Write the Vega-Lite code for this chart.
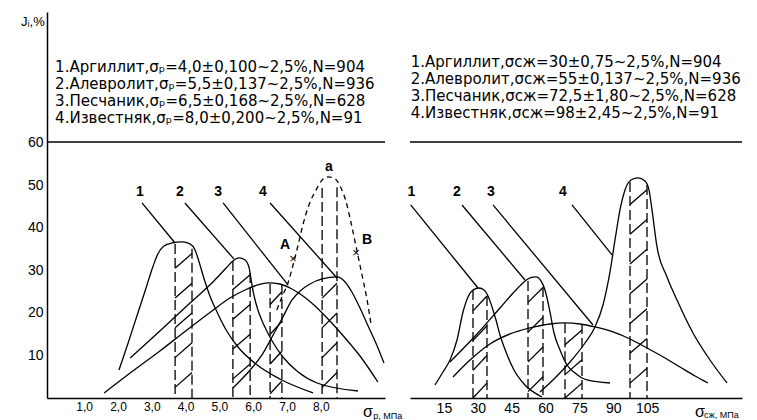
{
  "$schema": "https://vega.github.io/schema/vega-lite/v6.json",
  "padding": {"left": 0, "top": 12, "right": 0, "bottom": 0},
  "bounds": "flush",
  "spacing": 25,
  "config": {
    "font": "Liberation Sans",
    "view": {"stroke": null},
    "axis": {"grid": false, "ticks": false, "domainColor": "black", "domainWidth": 1.5, "labelColor": "black", "labelFontSize": 13, "labelFont": "Liberation Sans"},
    "text": {"font": "Liberation Sans", "color": "black"}
  },
  "datasets": {
    "line60": [{"y": 60.2}],
    "curvesL": [
      {"c": "1", "x": 2.03, "y": 6.59}, {"c": "1", "x": 2.30, "y": 12.94}, {"c": "1", "x": 2.56, "y": 19.29}, {"c": "1", "x": 2.83, "y": 25.88}, {"c": "1", "x": 3.04, "y": 31.06}, {"c": "1", "x": 3.18, "y": 33.88}, {"c": "1", "x": 3.36, "y": 35.76}, {"c": "1", "x": 3.60, "y": 36.47}, {"c": "1", "x": 3.89, "y": 36.71}, {"c": "1", "x": 4.13, "y": 36.24}, {"c": "1", "x": 4.28, "y": 34.82}, {"c": "1", "x": 4.40, "y": 32.0}, {"c": "1", "x": 4.54, "y": 28.24}, {"c": "1", "x": 4.72, "y": 24.0}, {"c": "1", "x": 4.93, "y": 20.24}, {"c": "1", "x": 5.20, "y": 16.0}, {"c": "1", "x": 5.55, "y": 12.0}, {"c": "1", "x": 6.08, "y": 8.0}, {"c": "1", "x": 6.79, "y": 4.47}, {"c": "1", "x": 7.77, "y": 1.18},
      {"c": "2", "x": 2.36, "y": 9.41}, {"c": "2", "x": 3.24, "y": 15.76}, {"c": "2", "x": 4.13, "y": 22.35}, {"c": "2", "x": 4.84, "y": 27.53}, {"c": "2", "x": 5.20, "y": 30.59}, {"c": "2", "x": 5.40, "y": 32.24}, {"c": "2", "x": 5.58, "y": 32.94}, {"c": "2", "x": 5.76, "y": 32.47}, {"c": "2", "x": 5.88, "y": 30.59}, {"c": "2", "x": 5.94, "y": 27.76}, {"c": "2", "x": 6.02, "y": 24.24}, {"c": "2", "x": 6.14, "y": 20.71}, {"c": "2", "x": 6.29, "y": 17.65}, {"c": "2", "x": 6.56, "y": 13.41}, {"c": "2", "x": 6.88, "y": 9.65}, {"c": "2", "x": 7.33, "y": 6.12}, {"c": "2", "x": 7.89, "y": 3.53}, {"c": "2", "x": 9.10, "y": 1.65},
      {"c": "3", "x": 1.59, "y": 1.18}, {"c": "3", "x": 2.36, "y": 5.88}, {"c": "3", "x": 3.24, "y": 11.06}, {"c": "3", "x": 4.04, "y": 16.0}, {"c": "3", "x": 4.78, "y": 20.47}, {"c": "3", "x": 5.31, "y": 23.53}, {"c": "3", "x": 5.76, "y": 25.41}, {"c": "3", "x": 6.14, "y": 26.59}, {"c": "3", "x": 6.44, "y": 27.06}, {"c": "3", "x": 6.79, "y": 26.82}, {"c": "3", "x": 7.09, "y": 25.88}, {"c": "3", "x": 7.39, "y": 24.47}, {"c": "3", "x": 7.83, "y": 21.65}, {"c": "3", "x": 8.27, "y": 18.12}, {"c": "3", "x": 8.72, "y": 14.12}, {"c": "3", "x": 9.16, "y": 9.88}, {"c": "3", "x": 9.69, "y": 3.76},
      {"c": "4", "x": 5.40, "y": 2.35}, {"c": "4", "x": 5.91, "y": 6.59}, {"c": "4", "x": 6.26, "y": 10.12}, {"c": "4", "x": 6.59, "y": 14.82}, {"c": "4", "x": 6.88, "y": 19.06}, {"c": "4", "x": 7.15, "y": 23.06}, {"c": "4", "x": 7.39, "y": 25.18}, {"c": "4", "x": 7.68, "y": 26.82}, {"c": "4", "x": 8.04, "y": 28.0}, {"c": "4", "x": 8.48, "y": 28.47}, {"c": "4", "x": 8.72, "y": 27.29}, {"c": "4", "x": 8.92, "y": 24.94}, {"c": "4", "x": 9.16, "y": 21.18}, {"c": "4", "x": 9.40, "y": 16.94}, {"c": "4", "x": 9.63, "y": 12.94}, {"c": "4", "x": 9.87, "y": 8.24}
    ],
    "dashedL": [
      {"x": 6.70, "y": 20.71}, {"x": 6.85, "y": 23.76}, {"x": 7.03, "y": 27.06}, {"x": 7.18, "y": 31.29}, {"x": 7.33, "y": 36.0}, {"x": 7.47, "y": 40.71}, {"x": 7.65, "y": 45.41}, {"x": 7.86, "y": 48.94}, {"x": 8.04, "y": 51.29}, {"x": 8.21, "y": 52.0}, {"x": 8.39, "y": 51.76}, {"x": 8.57, "y": 49.88}, {"x": 8.75, "y": 46.12}, {"x": 8.89, "y": 41.41}, {"x": 9.04, "y": 35.76}, {"x": 9.22, "y": 28.94}, {"x": 9.37, "y": 23.06}, {"x": 9.49, "y": 17.18}
    ],
    "bandsL": [
      {"x": 3.69, "top": 36.2}, {"x": 4.19, "top": 35.1}, {"x": 5.40, "top": 32.2}, {"x": 5.91, "top": 29.4}, {"x": 6.50, "top": 26.8}, {"x": 6.85, "top": 26.6}, {"x": 8.04, "top": 49.4}, {"x": 8.48, "top": 49.6}
    ],
    "hatchL": [
      {"xa": 3.69, "ya": 30.5, "xb": 4.19, "yb": 34}, {"xa": 3.69, "ya": 23.5, "xb": 4.19, "yb": 27}, {"xa": 3.69, "ya": 16.5, "xb": 4.19, "yb": 20}, {"xa": 3.69, "ya": 9.5, "xb": 4.19, "yb": 13}, {"xa": 3.69, "ya": 2.5, "xb": 4.19, "yb": 6},
      {"xa": 5.40, "ya": 25.5, "xb": 5.91, "yb": 29}, {"xa": 5.40, "ya": 18.5, "xb": 5.91, "yb": 22}, {"xa": 5.40, "ya": 11.5, "xb": 5.91, "yb": 15}, {"xa": 5.40, "ya": 4.5, "xb": 5.91, "yb": 8},
      {"xa": 6.50, "ya": 22, "xb": 6.85, "yb": 25}, {"xa": 6.50, "ya": 15, "xb": 6.85, "yb": 18}, {"xa": 6.50, "ya": 8, "xb": 6.85, "yb": 11}, {"xa": 6.50, "ya": 1, "xb": 6.85, "yb": 4},
      {"xa": 8.04, "ya": 23.5, "xb": 8.48, "yb": 27}, {"xa": 8.04, "ya": 16.5, "xb": 8.48, "yb": 20}, {"xa": 8.04, "ya": 9.5, "xb": 8.48, "yb": 13}, {"xa": 8.04, "ya": 2.5, "xb": 8.48, "yb": 6}
    ],
    "leadersL": [
      {"xa": 2.71, "ya": 45.88, "xb": 3.69, "yb": 36.47}, {"xa": 3.98, "ya": 45.88, "xb": 5.43, "yb": 32.71}, {"xa": 5.11, "ya": 45.88, "xb": 7.03, "yb": 26.59}, {"xa": 6.50, "ya": 45.88, "xb": 8.48, "yb": 28.24}
    ],
    "labelsL": [
      {"x": 2.65, "y": 48.5, "t": "1"}, {"x": 3.83, "y": 48.5, "t": "2"}, {"x": 4.96, "y": 48.5, "t": "3"}, {"x": 6.29, "y": 48.5, "t": "4"}, {"x": 6.94, "y": 36.0, "t": "A"}, {"x": 9.37, "y": 37.2, "t": "B"}, {"x": 8.24, "y": 54.4, "t": "a"}
    ],
    "crossL": [{"x": 7.18, "y": 32.7, "t": "×"}, {"x": 9.04, "y": 34.1, "t": "×"}],
    "legendL": [
      {"x": 0.14, "y": 77.88, "t": "1.Аргиллит,σₚ=4,0±0,100~2,5%,N=904"},
      {"x": 0.14, "y": 73.88, "t": "2.Алевролит,σₚ=5,5±0,137~2,5%,N=936"},
      {"x": 0.14, "y": 69.88, "t": "3.Песчаник,σₚ=6,5±0,168~2,5%,N=628"},
      {"x": 0.14, "y": 65.88, "t": "4.Известняк,σₚ=8,0±0,200~2,5%,N=91"}
    ],
    "ytitleL": [{"x": -0.87, "y": 88.4, "t": "Jᵢ,%"}],
    "sigL": [{"x": 9.25, "y": -3.3, "t": "σ"}],
    "subL": [{"x": 9.55, "y": -4.3, "t": "р, МПа"}],
    "curvesR": [
      {"c": "1", "x": 11.07, "y": 3.06}, {"c": "1", "x": 14.61, "y": 6.12}, {"c": "1", "x": 17.71, "y": 8.94}, {"c": "1", "x": 20.81, "y": 13.65}, {"c": "1", "x": 23.47, "y": 20.24}, {"c": "1", "x": 25.68, "y": 23.76}, {"c": "1", "x": 27.89, "y": 25.41}, {"c": "1", "x": 30.55, "y": 25.88}, {"c": "1", "x": 32.77, "y": 25.41}, {"c": "1", "x": 34.54, "y": 24.0}, {"c": "1", "x": 36.31, "y": 21.41}, {"c": "1", "x": 38.08, "y": 18.35}, {"c": "1", "x": 39.85, "y": 14.82}, {"c": "1", "x": 42.51, "y": 10.82}, {"c": "1", "x": 46.05, "y": 6.59}, {"c": "1", "x": 50.48, "y": 3.29}, {"c": "1", "x": 58.45, "y": 0.24},
      {"c": "2", "x": 17.71, "y": 8.47}, {"c": "2", "x": 29.67, "y": 15.06}, {"c": "2", "x": 39.85, "y": 21.18}, {"c": "2", "x": 46.49, "y": 25.18}, {"c": "2", "x": 50.48, "y": 27.29}, {"c": "2", "x": 53.13, "y": 28.24}, {"c": "2", "x": 55.79, "y": 28.47}, {"c": "2", "x": 58.00, "y": 27.53}, {"c": "2", "x": 59.77, "y": 25.41}, {"c": "2", "x": 61.99, "y": 20.24}, {"c": "2", "x": 63.76, "y": 15.29}, {"c": "2", "x": 66.42, "y": 11.29}, {"c": "2", "x": 69.52, "y": 7.76}, {"c": "2", "x": 73.06, "y": 5.88}, {"c": "2", "x": 78.37, "y": 4.24}, {"c": "2", "x": 88.55, "y": 3.53},
      {"c": "3", "x": 19.04, "y": 4.94}, {"c": "3", "x": 26.57, "y": 8.94}, {"c": "3", "x": 35.42, "y": 12.71}, {"c": "3", "x": 44.28, "y": 15.06}, {"c": "3", "x": 53.13, "y": 16.47}, {"c": "3", "x": 61.99, "y": 17.41}, {"c": "3", "x": 68.63, "y": 17.65}, {"c": "3", "x": 75.27, "y": 17.41}, {"c": "3", "x": 81.91, "y": 16.71}, {"c": "3", "x": 89.88, "y": 15.53}, {"c": "3", "x": 97.41, "y": 13.88}, {"c": "3", "x": 104.94, "y": 11.76}, {"c": "3", "x": 112.91, "y": 9.41}, {"c": "3", "x": 119.55, "y": 7.29}, {"c": "3", "x": 126.19, "y": 5.18}, {"c": "3", "x": 131.95, "y": 3.53},
      {"c": "4", "x": 57.56, "y": 1.41}, {"c": "4", "x": 64.20, "y": 4.71}, {"c": "4", "x": 70.84, "y": 8.47}, {"c": "4", "x": 77.49, "y": 12.94}, {"c": "4", "x": 81.91, "y": 16.71}, {"c": "4", "x": 85.45, "y": 21.88}, {"c": "4", "x": 88.55, "y": 29.65}, {"c": "4", "x": 90.77, "y": 37.18}, {"c": "4", "x": 92.98, "y": 44.24}, {"c": "4", "x": 95.20, "y": 48.94}, {"c": "4", "x": 97.85, "y": 51.29}, {"c": "4", "x": 100.95, "y": 51.76}, {"c": "4", "x": 104.05, "y": 51.06}, {"c": "4", "x": 105.82, "y": 48.94}, {"c": "4", "x": 107.15, "y": 44.24}, {"c": "4", "x": 109.37, "y": 35.53}, {"c": "4", "x": 113.79, "y": 28.47}, {"c": "4", "x": 118.22, "y": 23.06}, {"c": "4", "x": 125.30, "y": 15.29}, {"c": "4", "x": 132.83, "y": 8.94}, {"c": "4", "x": 140.36, "y": 3.53}
    ],
    "bandsR": [
      {"x": 27.89, "top": 25.4}, {"x": 34.09, "top": 24.0}, {"x": 52.25, "top": 27.5}, {"x": 58.89, "top": 26.1}, {"x": 68.63, "top": 17.6}, {"x": 76.16, "top": 17.4}, {"x": 97.41, "top": 50.8}, {"x": 104.94, "top": 50.1}
    ],
    "hatchR": [
      {"xa": 27.89, "ya": 20.5, "xb": 34.09, "yb": 24}, {"xa": 27.89, "ya": 13.5, "xb": 34.09, "yb": 17}, {"xa": 27.89, "ya": 6.5, "xb": 34.09, "yb": 10}, {"xa": 27.89, "ya": 0, "xb": 34.09, "yb": 3.5},
      {"xa": 52.25, "ya": 22.5, "xb": 58.89, "yb": 26}, {"xa": 52.25, "ya": 15.5, "xb": 58.89, "yb": 19}, {"xa": 52.25, "ya": 8.5, "xb": 58.89, "yb": 12}, {"xa": 52.25, "ya": 1.5, "xb": 58.89, "yb": 5},
      {"xa": 68.63, "ya": 12.5, "xb": 76.16, "yb": 16}, {"xa": 68.63, "ya": 5.5, "xb": 76.16, "yb": 9}, {"xa": 68.63, "ya": 0, "xb": 76.16, "yb": 3.5},
      {"xa": 97.41, "ya": 45.5, "xb": 104.94, "yb": 49}, {"xa": 97.41, "ya": 38.5, "xb": 104.94, "yb": 42}, {"xa": 97.41, "ya": 31.5, "xb": 104.94, "yb": 35}, {"xa": 97.41, "ya": 24.5, "xb": 104.94, "yb": 28}, {"xa": 97.41, "ya": 17.5, "xb": 104.94, "yb": 21}, {"xa": 97.41, "ya": 10.5, "xb": 104.94, "yb": 14}, {"xa": 97.41, "ya": 3.5, "xb": 104.94, "yb": 7}
    ],
    "leadersR": [
      {"xa": 0.3, "ya": 45.41, "xb": 30.11, "yb": 25.88}, {"xa": 23.02, "ya": 45.41, "xb": 50.92, "yb": 27.76}, {"xa": 36.75, "ya": 45.41, "xb": 81.03, "yb": 17.18}, {"xa": 71.73, "ya": 45.41, "xb": 89.44, "yb": 33.65}
    ],
    "labelsR": [
      {"x": 0.6, "y": 48.5, "t": "1"}, {"x": 20.81, "y": 48.5, "t": "2"}, {"x": 35.86, "y": 48.5, "t": "3"}, {"x": 67.74, "y": 48.5, "t": "4"}
    ],
    "legendR": [
      {"x": 0.3, "y": 79.06, "t": "1.Аргиллит,σсж=30±0,75~2,5%,N=904"},
      {"x": 0.3, "y": 75.06, "t": "2.Алевролит,σсж=55±0,137~2,5%,N=936"},
      {"x": 0.3, "y": 71.06, "t": "3.Песчаник,σсж=72,5±1,80~2,5%,N=628"},
      {"x": 0.3, "y": 67.06, "t": "4.Известняк,σсж=98±2,45~2,5%,N=91"}
    ],
    "sigR": [{"x": 126.2, "y": -3.3, "t": "σ"}],
    "subR": [{"x": 130.2, "y": -4.0, "t": "сж, МПа"}]
  },
  "hconcat": [
    {
      "width": 338,
      "height": 386,
      "layer": [
        {
          "data": {"name": "curvesL"},
          "mark": {"type": "line", "interpolate": "monotone", "color": "black", "strokeWidth": 1.3},
          "encoding": {
            "x": {"field": "x", "type": "quantitative", "title": null, "scale": {"domain": [-0.1, 9.9], "nice": false, "zero": false}, "axis": {"values": [1, 2, 3, 4, 5, 6, 7, 8], "labelExpr": "replace(format(datum.value, '.1f'), '.', ',')", "labelPadding": 3, "labelFontSize": 12, "title": null}},
            "y": {"field": "y", "type": "quantitative", "title": null, "scale": {"domain": [0, 90.8], "nice": false, "zero": false}, "axis": {"values": [10, 20, 30, 40, 50, 60], "labelPadding": 4, "labelFontSize": 14, "minExtent": 47, "maxExtent": 47, "title": null}},
            "detail": {"field": "c", "type": "nominal"}
          }
        },
        {
          "data": {"name": "line60"},
          "mark": {"type": "rule", "color": "black", "strokeWidth": 1.5},
          "encoding": {"y": {"field": "y", "type": "quantitative", "title": null}}
        },
        {
          "data": {"name": "bandsL"},
          "mark": {"type": "rule", "color": "black", "strokeWidth": 1.3, "strokeDash": [10, 4]},
          "encoding": {
            "x": {"field": "x", "type": "quantitative", "title": null},
            "y": {"field": "top", "type": "quantitative", "title": null},
            "y2": {"datum": 0}
          }
        },
        {
          "data": {"name": "hatchL"},
          "mark": {"type": "rule", "color": "black", "strokeWidth": 1.3},
          "encoding": {
            "x": {"field": "xa", "type": "quantitative", "title": null},
            "y": {"field": "ya", "type": "quantitative", "title": null},
            "x2": {"field": "xb"},
            "y2": {"field": "yb"}
          }
        },
        {
          "data": {"name": "dashedL"},
          "mark": {"type": "line", "interpolate": "monotone", "color": "black", "strokeWidth": 1.3, "strokeDash": [5, 4]},
          "encoding": {
            "x": {"field": "x", "type": "quantitative", "title": null},
            "y": {"field": "y", "type": "quantitative", "title": null}
          }
        },
        {
          "data": {"name": "leadersL"},
          "mark": {"type": "rule", "color": "black", "strokeWidth": 1.3},
          "encoding": {
            "x": {"field": "xa", "type": "quantitative", "title": null},
            "y": {"field": "ya", "type": "quantitative", "title": null},
            "x2": {"field": "xb"},
            "y2": {"field": "yb"}
          }
        },
        {
          "data": {"name": "labelsL"},
          "mark": {"type": "text", "fontSize": 14, "fontWeight": "bold", "align": "center", "baseline": "middle", "color": "black"},
          "encoding": {
            "x": {"field": "x", "type": "quantitative", "title": null},
            "y": {"field": "y", "type": "quantitative", "title": null},
            "text": {"field": "t", "type": "nominal"}
          }
        },
        {
          "data": {"name": "crossL"},
          "mark": {"type": "text", "fontSize": 13, "align": "center", "baseline": "middle", "color": "black"},
          "encoding": {
            "x": {"field": "x", "type": "quantitative", "title": null},
            "y": {"field": "y", "type": "quantitative", "title": null},
            "text": {"field": "t", "type": "nominal"}
          }
        },
        {
          "data": {"name": "legendL"},
          "mark": {"type": "text", "font": "DejaVu Sans", "fontSize": 15, "align": "left", "baseline": "middle", "color": "black"},
          "encoding": {
            "x": {"field": "x", "type": "quantitative", "title": null},
            "y": {"field": "y", "type": "quantitative", "title": null},
            "text": {"field": "t", "type": "nominal"}
          }
        },
        {
          "data": {"name": "ytitleL"},
          "mark": {"type": "text", "fontSize": 13, "align": "left", "baseline": "middle", "color": "black"},
          "encoding": {
            "x": {"field": "x", "type": "quantitative", "title": null},
            "y": {"field": "y", "type": "quantitative", "title": null},
            "text": {"field": "t", "type": "nominal"}
          }
        },
        {
          "data": {"name": "sigL"},
          "mark": {"type": "text", "fontSize": 16, "align": "left", "baseline": "middle", "color": "black"},
          "encoding": {
            "x": {"field": "x", "type": "quantitative", "title": null},
            "y": {"field": "y", "type": "quantitative", "title": null},
            "text": {"field": "t", "type": "nominal"}
          }
        },
        {
          "data": {"name": "subL"},
          "mark": {"type": "text", "fontSize": 9, "align": "left", "baseline": "middle", "color": "black"},
          "encoding": {
            "x": {"field": "x", "type": "quantitative", "title": null},
            "y": {"field": "y", "type": "quantitative", "title": null},
            "text": {"field": "t", "type": "nominal"}
          }
        }
      ]
    },
    {
      "width": 332,
      "height": 386,
      "layer": [
        {
          "data": {"name": "curvesR"},
          "mark": {"type": "line", "interpolate": "monotone", "color": "black", "strokeWidth": 1.3},
          "encoding": {
            "x": {"field": "x", "type": "quantitative", "title": null, "scale": {"domain": [0, 147], "nice": false, "zero": false}, "axis": {"values": [15, 30, 45, 60, 75, 90, 105], "labelPadding": 3, "labelFontSize": 14, "title": null}},
            "y": {"field": "y", "type": "quantitative", "title": null, "scale": {"domain": [0, 90.8], "nice": false, "zero": false}, "axis": null},
            "detail": {"field": "c", "type": "nominal"}
          }
        },
        {
          "data": {"name": "line60"},
          "mark": {"type": "rule", "color": "black", "strokeWidth": 1.5},
          "encoding": {"y": {"field": "y", "type": "quantitative", "title": null}}
        },
        {
          "data": {"name": "bandsR"},
          "mark": {"type": "rule", "color": "black", "strokeWidth": 1.3, "strokeDash": [10, 4]},
          "encoding": {
            "x": {"field": "x", "type": "quantitative", "title": null},
            "y": {"field": "top", "type": "quantitative", "title": null},
            "y2": {"datum": 0}
          }
        },
        {
          "data": {"name": "hatchR"},
          "mark": {"type": "rule", "color": "black", "strokeWidth": 1.3},
          "encoding": {
            "x": {"field": "xa", "type": "quantitative", "title": null},
            "y": {"field": "ya", "type": "quantitative", "title": null},
            "x2": {"field": "xb"},
            "y2": {"field": "yb"}
          }
        },
        {
          "data": {"name": "leadersR"},
          "mark": {"type": "rule", "color": "black", "strokeWidth": 1.3},
          "encoding": {
            "x": {"field": "xa", "type": "quantitative", "title": null},
            "y": {"field": "ya", "type": "quantitative", "title": null},
            "x2": {"field": "xb"},
            "y2": {"field": "yb"}
          }
        },
        {
          "data": {"name": "labelsR"},
          "mark": {"type": "text", "fontSize": 14, "fontWeight": "bold", "align": "center", "baseline": "middle", "color": "black"},
          "encoding": {
            "x": {"field": "x", "type": "quantitative", "title": null},
            "y": {"field": "y", "type": "quantitative", "title": null},
            "text": {"field": "t", "type": "nominal"}
          }
        },
        {
          "data": {"name": "legendR"},
          "mark": {"type": "text", "font": "DejaVu Sans", "fontSize": 15, "align": "left", "baseline": "middle", "color": "black"},
          "encoding": {
            "x": {"field": "x", "type": "quantitative", "title": null},
            "y": {"field": "y", "type": "quantitative", "title": null},
            "text": {"field": "t", "type": "nominal"}
          }
        },
        {
          "data": {"name": "sigR"},
          "mark": {"type": "text", "fontSize": 16, "align": "left", "baseline": "middle", "color": "black"},
          "encoding": {
            "x": {"field": "x", "type": "quantitative", "title": null},
            "y": {"field": "y", "type": "quantitative", "title": null},
            "text": {"field": "t", "type": "nominal"}
          }
        },
        {
          "data": {"name": "subR"},
          "mark": {"type": "text", "fontSize": 9, "align": "left", "baseline": "middle", "color": "black"},
          "encoding": {
            "x": {"field": "x", "type": "quantitative", "title": null},
            "y": {"field": "y", "type": "quantitative", "title": null},
            "text": {"field": "t", "type": "nominal"}
          }
        }
      ]
    }
  ]
}
